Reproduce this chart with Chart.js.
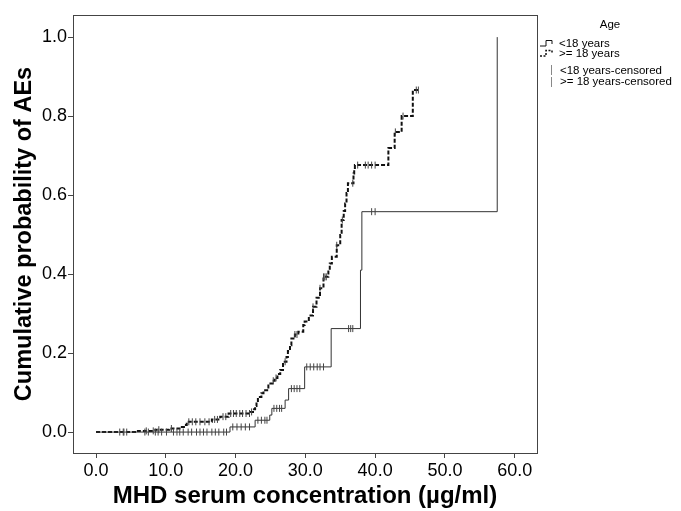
<!DOCTYPE html>
<html><head><meta charset="utf-8">
<script src="https://cdn.jsdelivr.net/npm/chart.js@4"></script>
<style>html,body{margin:0;padding:0;background:#fff}</style>
</head><body>
<canvas id="c" width="681" height="511" style="display:block;width:681px;height:511px"></canvas>
<script>
// ---- data ----
const xTicks = [0, 10, 20, 30, 40, 50, 60];
const yTicks = [0, 0.2, 0.4, 0.6, 0.8, 1.0];
const xTitle = 'MHD serum concentration (µg/ml)';
const yTitle = 'Cumulative probability of AEs';
const legendTitle = 'Age';
const legendLabels = ['<18 years', '>= 18 years', '<18 years-censored', '>= 18 years-censored'];

// <18 years : step points (time, cumulative probability after the step)
const youngX = [0, 19.2, 22.8, 24.9, 25.2, 27.1, 27.6, 29.9, 33.7, 37.9, 38.1, 57.5];
const youngY = [0, 0.013, 0.030, 0.043, 0.060, 0.081, 0.110, 0.165, 0.262, 0.41, 0.558, 1.0];
// >= 18 years
const adultX = [0, 6.0, 8.5, 10.5, 12.3, 12.6, 13.0, 16.6, 17.8, 19.0, 22.1, 22.5, 22.8, 23.0, 23.2, 23.7, 24.0, 24.7, 25.3, 25.6, 26.0, 26.4, 26.8, 27.3, 27.5, 27.8, 28.0, 28.5, 29.0, 29.7, 29.9, 30.5, 31.1, 31.6, 32.1, 32.6, 33.3, 33.5, 33.8, 34.5, 35.0, 35.2, 35.5, 35.7, 35.9, 36.1, 36.9, 37.0, 37.1, 41.9, 42.8, 43.8, 45.4, 46.2];
const adultY = [0, 0.003, 0.006, 0.009, 0.013, 0.018, 0.026, 0.032, 0.039, 0.047, 0.051, 0.058, 0.066, 0.075, 0.089, 0.098, 0.106, 0.123, 0.130, 0.137, 0.147, 0.157, 0.178, 0.19, 0.205, 0.22, 0.237, 0.247, 0.254, 0.271, 0.28, 0.295, 0.317, 0.34, 0.364, 0.393, 0.41, 0.427, 0.444, 0.473, 0.499, 0.537, 0.56, 0.579, 0.605, 0.63, 0.655, 0.665, 0.676, 0.719, 0.76, 0.80, 0.866, 0.866];

// censored times
const youngCensX = [3.4, 3.9, 4.4, 7.0, 7.5, 8.5, 8.9, 9.4, 10.1, 11.1, 11.6, 12.0, 12.5, 13.2, 13.7, 14.4, 14.9, 15.4, 15.9, 16.6, 17.1, 17.6, 18.3, 18.7, 19.6, 20.2, 20.8, 21.4, 22.0, 23.2, 23.7, 24.2, 24.5, 25.5, 25.9, 26.3, 26.6, 28.0, 28.4, 28.8, 29.2, 30.2, 30.7, 31.2, 31.7, 32.1, 32.6, 36.2, 36.5, 36.8, 39.5, 40.0];
const adultCensX = [4.0, 7.2, 8.2, 9.0, 10.8, 13.3, 13.8, 14.3, 14.9, 15.6, 16.2, 17.0, 17.4, 18.2, 18.6, 19.3, 19.7, 20.1, 20.6, 21.0, 21.5, 22.0, 22.3, 25.4, 25.8, 27.1, 28.5, 28.8, 31.1, 32.1, 32.6, 32.8, 33.0, 34.5, 35.3, 36.8, 37.5, 38.6, 39.0, 39.5, 40.0, 42.9, 44.0, 45.9, 46.2];

// ---- helpers ----
function pts(xs, ys) { return xs.map((x, i) => ({ x: x, y: ys[i] })); }
function stepAt(xs, ys, t) { let v = ys[0]; for (let i = 0; i < xs.length; i++) { if (xs[i] <= t) v = ys[i]; } return v; }
function cens(cx, xs, ys) { return cx.map(t => ({ x: t, y: stepAt(xs, ys, t) })); }

const FONT = '"Liberation Sans", Arial, Helvetica, sans-serif';

const framePlugin = {
  id: 'frame',
  afterDatasetsDraw(chart) {
    const a = chart.chartArea, ctx = chart.ctx;
    ctx.save();
    ctx.strokeStyle = '#444'; ctx.lineWidth = 1;
    ctx.strokeRect(Math.round(a.left) + 0.5, Math.round(a.top) + 0.5, Math.round(a.right - a.left), Math.round(a.bottom - a.top));
    ctx.restore();
  }
};

const legendPlugin = {
  id: 'kmLegend',
  afterDraw(chart) {
    const ctx = chart.ctx;
    ctx.save();
    ctx.font = '11.5px ' + FONT;
    ctx.fillStyle = '#000';
    ctx.textBaseline = 'middle';
    ctx.textAlign = 'center';
    ctx.fillText(legendTitle, 610, 25);
    ctx.textAlign = 'left';
    const icon = (y, dash, w) => {
      ctx.beginPath();
      ctx.setLineDash(dash); ctx.lineWidth = w; ctx.strokeStyle = '#111';
      ctx.moveTo(540, y + 3); ctx.lineTo(546, y + 3); ctx.lineTo(546, y - 2.5); ctx.lineTo(552, y - 2.5); ctx.lineTo(552, y + 1);
      ctx.stroke();
    };
    icon(43, [], 1);
    icon(53, [2, 1.5], 1.5);
    ctx.setLineDash([]);
    ctx.fillText(legendLabels[0], 559, 43.5);
    ctx.fillText(legendLabels[1], 559, 53.5);
    ctx.strokeStyle = '#888'; ctx.lineWidth = 1;
    ctx.beginPath(); ctx.moveTo(551.5, 65); ctx.lineTo(551.5, 75); ctx.stroke();
    ctx.beginPath(); ctx.moveTo(551.5, 77); ctx.lineTo(551.5, 87); ctx.stroke();
    ctx.fillText(legendLabels[2], 560, 70.5);
    ctx.fillText(legendLabels[3], 560, 82);
    ctx.restore();
  }
};

const tickFont = { family: FONT, size: 18 };

new Chart(document.getElementById('c'), {
  type: 'line',
  data: {
    datasets: [
      { label: legendLabels[0], data: pts(youngX, youngY), stepped: 'before', borderColor: '#333', borderWidth: 1, pointRadius: 0, fill: false, order: 2 },
      { label: legendLabels[1], data: pts(adultX, adultY), stepped: 'before', borderColor: '#111', borderWidth: 2, borderDash: [4, 2], pointRadius: 0, fill: false, order: 2 },
      { label: legendLabels[2], data: cens(youngCensX, youngX, youngY), showLine: false, pointStyle: 'line', rotation: 90, pointRadius: 3.5, pointBorderWidth: 1, pointBorderColor: '#444', borderColor: '#444', order: 1 },
      { label: legendLabels[3], data: cens(adultCensX, adultX, adultY), showLine: false, pointStyle: 'line', rotation: 90, pointRadius: 3.5, pointBorderWidth: 1, pointBorderColor: '#444', borderColor: '#444', order: 1 }
    ]
  },
  options: {
    responsive: false,
    animation: false,
    devicePixelRatio: 1,
    layout: { padding: { top: 15, right: 144, left: 0, bottom: 0 } },
    plugins: { legend: { display: false }, tooltip: { enabled: false } },
    scales: {
      x: {
        type: 'linear', min: -3.3, max: 63.2,
        afterBuildTicks(axis) { axis.ticks = xTicks.map(v => ({ value: v })); },
        afterFit(s) { s.height = 58; },
        ticks: { callback: v => Number(v).toFixed(1), font: tickFont, color: '#000', padding: 2, maxRotation: 0, autoSkip: false },
        grid: { drawOnChartArea: false, drawTicks: true, tickLength: 5, color: '#444' },
        border: { display: false },
        title: { display: true, text: xTitle, font: { family: FONT, size: 24, weight: 'bold' }, color: '#000', padding: { top: 0, bottom: 0 } }
      },
      y: {
        type: 'linear', min: -0.053, max: 1.056,
        afterBuildTicks(axis) { axis.ticks = yTicks.map(v => ({ value: v })); },
        afterFit(s) { s.width = 73; },
        ticks: { callback: v => Number(v).toFixed(1), font: tickFont, color: '#000', padding: 1, autoSkip: false },
        grid: { drawOnChartArea: false, drawTicks: true, tickLength: 5, color: '#444' },
        border: { display: false },
        title: { display: true, text: yTitle, font: { family: FONT, size: 23.5, weight: 'bold' }, color: '#000', padding: { top: 10.5, bottom: 0 } }
      }
    }
  },
  plugins: [framePlugin, legendPlugin]
});
</script>
</body></html>
